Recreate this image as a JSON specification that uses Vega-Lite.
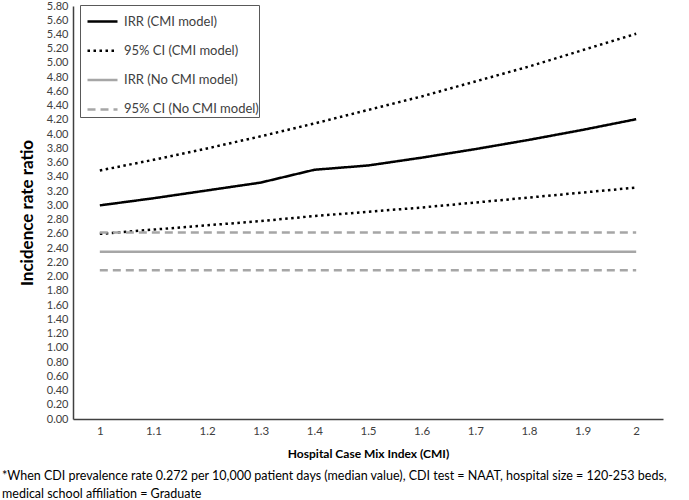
{
  "$schema": "https://vega.github.io/schema/vega-lite/v6.json",
  "autosize": {"type": "none"},
  "padding": {"left": 73, "top": 6, "right": 26, "bottom": 81},
  "width": 590,
  "height": 413,
  "background": "white",
  "config": {
    "font": "Lato",
    "view": {"stroke": null},
    "axis": {"grid": false, "ticks": false, "domainColor": "#404040", "domainWidth": 1.5, "labelColor": "#404040", "labelFont": "Lato", "titleFont": "Lato"},
    "legend": {"title": null, "orient": "none", "legendX": 7, "legendY": -1, "direction": "vertical", "strokeColor": "#595959", "padding": 0, "symbolType": "stroke", "symbolSize": 900, "symbolStrokeWidth": 2.5, "rowPadding": 5.3, "labelFontSize": 13, "labelColor": "#404040", "labelOffset": 5, "labelFont": "Lato", "symbolOffset": 6, "labelExpr": "datum.label + '      '"}
  },
  "title": {
    "text": ["*When CDI prevalence rate 0.272 per 10,000 patient days (median value), CDI test = NAAT, hospital size = 120-253 beds,", "medical school affiliation = Graduate"],
    "orient": "bottom",
    "anchor": "start",
    "frame": "group",
    "dx": -71,
    "offset": 10,
    "fontSize": 12.5,
    "fontWeight": "normal",
    "color": "#000000",
    "lineHeight": 18,
    "font": "Lato"
  },
  "data": {"values": [
    {"cmi": "1", "line": "irr_cmi", "series": "IRR (CMI model)", "value": 3.00},
    {"cmi": "1.1", "line": "irr_cmi", "series": "IRR (CMI model)", "value": 3.10},
    {"cmi": "1.2", "line": "irr_cmi", "series": "IRR (CMI model)", "value": 3.21},
    {"cmi": "1.3", "line": "irr_cmi", "series": "IRR (CMI model)", "value": 3.32},
    {"cmi": "1.4", "line": "irr_cmi", "series": "IRR (CMI model)", "value": 3.50},
    {"cmi": "1.5", "line": "irr_cmi", "series": "IRR (CMI model)", "value": 3.56},
    {"cmi": "1.6", "line": "irr_cmi", "series": "IRR (CMI model)", "value": 3.67},
    {"cmi": "1.7", "line": "irr_cmi", "series": "IRR (CMI model)", "value": 3.79},
    {"cmi": "1.8", "line": "irr_cmi", "series": "IRR (CMI model)", "value": 3.92},
    {"cmi": "1.9", "line": "irr_cmi", "series": "IRR (CMI model)", "value": 4.06},
    {"cmi": "2", "line": "irr_cmi", "series": "IRR (CMI model)", "value": 4.21},
    {"cmi": "1", "line": "up_cmi", "series": "95% CI (CMI model)", "value": 3.49},
    {"cmi": "1.1", "line": "up_cmi", "series": "95% CI (CMI model)", "value": 3.64},
    {"cmi": "1.2", "line": "up_cmi", "series": "95% CI (CMI model)", "value": 3.80},
    {"cmi": "1.3", "line": "up_cmi", "series": "95% CI (CMI model)", "value": 3.97},
    {"cmi": "1.4", "line": "up_cmi", "series": "95% CI (CMI model)", "value": 4.15},
    {"cmi": "1.5", "line": "up_cmi", "series": "95% CI (CMI model)", "value": 4.34},
    {"cmi": "1.6", "line": "up_cmi", "series": "95% CI (CMI model)", "value": 4.53},
    {"cmi": "1.7", "line": "up_cmi", "series": "95% CI (CMI model)", "value": 4.74},
    {"cmi": "1.8", "line": "up_cmi", "series": "95% CI (CMI model)", "value": 4.95},
    {"cmi": "1.9", "line": "up_cmi", "series": "95% CI (CMI model)", "value": 5.18},
    {"cmi": "2", "line": "up_cmi", "series": "95% CI (CMI model)", "value": 5.41},
    {"cmi": "1", "line": "lo_cmi", "series": "95% CI (CMI model)", "value": 2.60},
    {"cmi": "1.1", "line": "lo_cmi", "series": "95% CI (CMI model)", "value": 2.66},
    {"cmi": "1.2", "line": "lo_cmi", "series": "95% CI (CMI model)", "value": 2.72},
    {"cmi": "1.3", "line": "lo_cmi", "series": "95% CI (CMI model)", "value": 2.78},
    {"cmi": "1.4", "line": "lo_cmi", "series": "95% CI (CMI model)", "value": 2.85},
    {"cmi": "1.5", "line": "lo_cmi", "series": "95% CI (CMI model)", "value": 2.91},
    {"cmi": "1.6", "line": "lo_cmi", "series": "95% CI (CMI model)", "value": 2.97},
    {"cmi": "1.7", "line": "lo_cmi", "series": "95% CI (CMI model)", "value": 3.04},
    {"cmi": "1.8", "line": "lo_cmi", "series": "95% CI (CMI model)", "value": 3.11},
    {"cmi": "1.9", "line": "lo_cmi", "series": "95% CI (CMI model)", "value": 3.18},
    {"cmi": "2", "line": "lo_cmi", "series": "95% CI (CMI model)", "value": 3.25},
    {"cmi": "1", "line": "irr_no", "series": "IRR (No CMI model)", "value": 2.35},
    {"cmi": "1.1", "line": "irr_no", "series": "IRR (No CMI model)", "value": 2.35},
    {"cmi": "1.2", "line": "irr_no", "series": "IRR (No CMI model)", "value": 2.35},
    {"cmi": "1.3", "line": "irr_no", "series": "IRR (No CMI model)", "value": 2.35},
    {"cmi": "1.4", "line": "irr_no", "series": "IRR (No CMI model)", "value": 2.35},
    {"cmi": "1.5", "line": "irr_no", "series": "IRR (No CMI model)", "value": 2.35},
    {"cmi": "1.6", "line": "irr_no", "series": "IRR (No CMI model)", "value": 2.35},
    {"cmi": "1.7", "line": "irr_no", "series": "IRR (No CMI model)", "value": 2.35},
    {"cmi": "1.8", "line": "irr_no", "series": "IRR (No CMI model)", "value": 2.35},
    {"cmi": "1.9", "line": "irr_no", "series": "IRR (No CMI model)", "value": 2.35},
    {"cmi": "2", "line": "irr_no", "series": "IRR (No CMI model)", "value": 2.35},
    {"cmi": "1", "line": "up_no", "series": "95% CI (No CMI model)", "value": 2.62},
    {"cmi": "1.1", "line": "up_no", "series": "95% CI (No CMI model)", "value": 2.62},
    {"cmi": "1.2", "line": "up_no", "series": "95% CI (No CMI model)", "value": 2.62},
    {"cmi": "1.3", "line": "up_no", "series": "95% CI (No CMI model)", "value": 2.62},
    {"cmi": "1.4", "line": "up_no", "series": "95% CI (No CMI model)", "value": 2.62},
    {"cmi": "1.5", "line": "up_no", "series": "95% CI (No CMI model)", "value": 2.62},
    {"cmi": "1.6", "line": "up_no", "series": "95% CI (No CMI model)", "value": 2.62},
    {"cmi": "1.7", "line": "up_no", "series": "95% CI (No CMI model)", "value": 2.62},
    {"cmi": "1.8", "line": "up_no", "series": "95% CI (No CMI model)", "value": 2.62},
    {"cmi": "1.9", "line": "up_no", "series": "95% CI (No CMI model)", "value": 2.62},
    {"cmi": "2", "line": "up_no", "series": "95% CI (No CMI model)", "value": 2.62},
    {"cmi": "1", "line": "lo_no", "series": "95% CI (No CMI model)", "value": 2.09},
    {"cmi": "1.1", "line": "lo_no", "series": "95% CI (No CMI model)", "value": 2.09},
    {"cmi": "1.2", "line": "lo_no", "series": "95% CI (No CMI model)", "value": 2.09},
    {"cmi": "1.3", "line": "lo_no", "series": "95% CI (No CMI model)", "value": 2.09},
    {"cmi": "1.4", "line": "lo_no", "series": "95% CI (No CMI model)", "value": 2.09},
    {"cmi": "1.5", "line": "lo_no", "series": "95% CI (No CMI model)", "value": 2.09},
    {"cmi": "1.6", "line": "lo_no", "series": "95% CI (No CMI model)", "value": 2.09},
    {"cmi": "1.7", "line": "lo_no", "series": "95% CI (No CMI model)", "value": 2.09},
    {"cmi": "1.8", "line": "lo_no", "series": "95% CI (No CMI model)", "value": 2.09},
    {"cmi": "1.9", "line": "lo_no", "series": "95% CI (No CMI model)", "value": 2.09},
    {"cmi": "2", "line": "lo_no", "series": "95% CI (No CMI model)", "value": 2.09}
  ]},
  "mark": {"type": "line", "strokeWidth": 2.5, "strokeCap": "butt"},
  "encoding": {
    "x": {
      "field": "cmi", "type": "ordinal",
      "sort": ["1", "1.1", "1.2", "1.3", "1.4", "1.5", "1.6", "1.7", "1.8", "1.9", "2"],
      "scale": {"type": "point", "padding": 0.5},
      "axis": {"title": "Hospital Case Mix Index (CMI)", "labelAngle": 0, "labelFontSize": 11.5, "labelPadding": 6, "titleFontSize": 12, "titleFontWeight": "bold", "titleColor": "#000000", "titlePadding": 12}
    },
    "y": {
      "field": "value", "type": "quantitative",
      "scale": {"domain": [0, 5.8], "nice": false},
      "axis": {"title": "Incidence rate ratio", "values": [0, 0.2, 0.4, 0.6, 0.8, 1, 1.2, 1.4, 1.6, 1.8, 2, 2.2, 2.4, 2.6, 2.8, 3, 3.2, 3.4, 3.6, 3.8, 4, 4.2, 4.4, 4.6, 4.8, 5, 5.2, 5.4, 5.6, 5.8], "format": ".2f", "labelFontSize": 11, "labelPadding": 5, "titleFontSize": 17, "titleFontWeight": "bold", "titleColor": "#000000", "titlePadding": 10}
    },
    "detail": {"field": "line"},
    "color": {
      "field": "series", "type": "nominal",
      "scale": {"domain": ["IRR (CMI model)", "95% CI (CMI model)", "IRR (No CMI model)", "95% CI (No CMI model)"], "range": ["#000000", "#000000", "#a6a6a6", "#a6a6a6"]}
    },
    "strokeDash": {
      "field": "series", "type": "nominal",
      "scale": {"domain": ["IRR (CMI model)", "95% CI (CMI model)", "IRR (No CMI model)", "95% CI (No CMI model)"], "range": [[1, 0], [2.5, 3.5], [1, 0], [8, 5]]}
    }
  }
}
